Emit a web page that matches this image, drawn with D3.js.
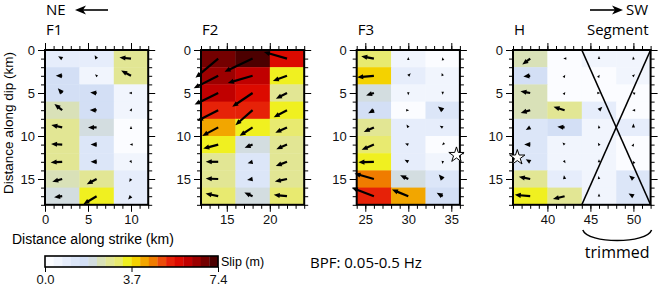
<!DOCTYPE html>
<html>
<head>
<meta charset="UTF-8">
<title>slip model</title>
<style>
    body { margin: 0; background: #fff; }
</style>
</head>
<body>
<script src="https://cdn.jsdelivr.net/npm/d3@7/dist/d3.min.js"></script>
<script>
    var width = 661, height = 289;

    // panels, along-strike extent (km)
    var panelNames = ["F1", "F2", "F3", "H"];
    var strikeStart = [0, 12, 24, 36];
    var strikeEnd = [12, 24, 36, 52];
    var dipMax = 18;
    var cellW = 4, cellH = 2;
    var xLabels = [[0, 5, 10], [15, 20], [25, 30, 35], [40, 45, 50]];
    var yLabels = [0, 5, 10, 15];

    // slip (m) per subfault, rows = down dip
    var slipF1 = [
        [1.1, 0.9, 2.7],
        [1.5, 0.5, 2.6],
        [1.5, 1.5, 0.5],
        [2.3, 1.6, 0.5],
        [2.6, 2.0, 0.3],
        [2.6, 1.4, 0.3],
        [2.7, 1.4, 0.4],
        [2.4, 2.6, 0.8],
        [1.9, 3.6, 1.0]];
    var slipF2 = [
        [6.9, 7.2, 5.6],
        [6.4, 6.0, 3.5],
        [6.1, 5.7, 2.9],
        [5.5, 5.3, 3.5],
        [4.2, 3.6, 3.0],
        [3.6, 2.0, 2.7],
        [2.9, 1.2, 2.8],
        [2.9, 1.3, 2.9],
        [3.0, 2.1, 3.1]];
    var slipF3 = [
        [3.0, 0.4, 0.3],
        [3.9, 0.8, 0.7],
        [1.9, 0.5, 0.4],
        [1.5, 0.2, 1.4],
        [2.6, 0.8, 0.8],
        [3.1, 0.8, 0.2],
        [3.6, 1.0, 0.5],
        [4.7, 2.1, 1.4],
        [5.5, 4.1, 1.6]];
    var slipH = [
        [2.3, 0.3, 0.6, 0.5],
        [1.6, 0.3, 0.3, 0.5],
        [2.3, 0.3, 0.3, 0.3],
        [2.3, 2.7, 1.1, 0.3],
        [1.2, 1.7, 0.5, 0.9],
        [1.4, 0.7, 0.5, 0.3],
        [1.2, 0.4, 0.6, 0.3],
        [2.7, 0.9, 0.7, 1.3],
        [3.6, 2.8, 0.6, 1.3]];

    // rake (deg, counter-clockwise from strike direction)
    var rakeF1 = [
        [150, 120, 175],
        [180, 135, 152],
        [133, 175, 180],
        [142, 178, 60],
        [167, 180, 90],
        [177, 180, 180],
        [183, 180, 300],
        [196, 208, 240],
        [187, 211, 228]];
    var rakeF2 = [
        [220, 205, 164],
        [207, 196, 200],
        [206, 214, 207],
        [207, 221, 208],
        [208, 213, 205],
        [195, 202, 203],
        [180, 195, 201],
        [178, 190, 192],
        [168, 156, 174]];
    var rakeF3 = [
        [169, 90, 100],
        [185, 45, 110],
        [198, 270, 270],
        [208, 0, 142],
        [205, 120, 150],
        [203, 160, 225],
        [182, 150, 260],
        [164, 155, 131],
        [159, 158, 151]];
    var rakeH = [
        [217, 180, 90, 100],
        [185, 60, 60, 45],
        [170, 60, 0, 150],
        [196, 163, 45, 180],
        [210, 175, 100, 90],
        [178, 135, 120, 60],
        [150, 300, 90, 120],
        [169, 100, 100, 140],
        [175, 194, 90, 150]];

    var slipData = [slipF1, slipF2, slipF3, slipH];
    var rakeData = [rakeF1, rakeF2, rakeF3, rakeH];

    // hypocentre (strike km, dip km) shown in F3 and H
    var hypo = [null, null, [35.6, 12.2], [36.5, 12.5]];
    var trimmedKm = [44, 52];
    var slipMax = 7.4;
    var slipTicks = [0, 3.7, 7.4];

    // layout
    var kmPx = 8.6;
    var plotTop = 50;
    var panelLeft = [45, 201, 356.7, 513];
    var arrowKmPerM = 0.5;

    var binColors = ["#fbfcff", "#f1f5fd", "#e6edfb", "#dce6f8", "#d3dff5",
        "#d3dde0", "#d9e1b8", "#e2e694", "#e8ea70", "#f0f020",
        "#f4d200", "#f2a600", "#f07c00", "#ec4c0a", "#e62208",
        "#dc0a00", "#c00000", "#9c0000", "#740000", "#4c0000"];
    var color = d3.scaleQuantize().domain([0, slipMax]).range(binColors);

    var tickFont = "Liberation Sans, Arial, sans-serif";
    var labFont = "Open Sans, sans-serif";

    var svg = d3.select("body").append("svg")
        .attr("width", width)
        .attr("height", height)
        .style("display", "block");

    function styleAxis(g) {
        g.select(".domain").remove();
        g.selectAll("line").attr("stroke", "#000").attr("stroke-width", 1);
        g.selectAll("text").attr("font-family", tickFont).attr("font-size", 13).attr("fill", "#111");
    }

    panelNames.forEach(function (name, p) {
        var x = d3.scaleLinear()
            .domain([strikeStart[p], strikeEnd[p]])
            .range([panelLeft[p], panelLeft[p] + (strikeEnd[p] - strikeStart[p]) * kmPx]);
        var y = d3.scaleLinear()
            .domain([0, dipMax])
            .range([plotTop, plotTop + dipMax * kmPx]);
        var g = svg.append("g");

        var cells = [];
        slipData[p].forEach(function (row, i) {
            row.forEach(function (s, j) {
                cells.push({i: i, j: j, s: s, r: rakeData[p][i][j]});
            });
        });

        // slip cells
        g.selectAll("rect.cell").data(cells).join("rect")
            .attr("x", d => x(strikeStart[p] + d.j * cellW))
            .attr("y", d => y(d.i * cellH))
            .attr("width", d => x(strikeStart[p] + (d.j + 1) * cellW) - x(strikeStart[p] + d.j * cellW) + 0.4)
            .attr("height", d => y((d.i + 1) * cellH) - y(d.i * cellH) + 0.4)
            .attr("fill", d => color(d.s));

        // trimmed segment cross
        if (p == 3) {
            g.append("line")
                .attr("x1", x(trimmedKm[0])).attr("y1", y(0))
                .attr("x2", x(trimmedKm[1])).attr("y2", y(dipMax))
                .attr("stroke", "#000").attr("stroke-width", 1.6);
            g.append("line")
                .attr("x1", x(trimmedKm[1])).attr("y1", y(0))
                .attr("x2", x(trimmedKm[0])).attr("y2", y(dipMax))
                .attr("stroke", "#000").attr("stroke-width", 1.6);
        }

        // slip vectors
        cells.forEach(function (d) {
            var cx = strikeStart[p] + (d.j + 0.5) * cellW;
            var cy = (d.i + 0.5) * cellH;
            var a = d.r * Math.PI / 180;
            var x0 = x(cx), y0 = y(cy);
            var x1 = x(cx + d.s * arrowKmPerM * Math.cos(a));
            var y1 = y(cy - d.s * arrowKmPerM * Math.sin(a));
            var L = Math.hypot(x1 - x0, y1 - y0);
            var ux = (x1 - x0) / L, uy = (y1 - y0) / L;
            var hl = Math.min(6, Math.max(3, L)), hw = hl * 0.42;
            if (L > hl) {
                g.append("line")
                    .attr("x1", x0).attr("y1", y0)
                    .attr("x2", x1 - ux * hl * 0.8).attr("y2", y1 - uy * hl * 0.8)
                    .attr("stroke", "#000").attr("stroke-width", 2.2);
            }
            var bx = x1 - ux * hl, by = y1 - uy * hl;
            g.append("path")
                .attr("d", "M" + x1 + "," + y1 +
                    "L" + (bx - uy * hw) + "," + (by + ux * hw) +
                    "L" + (bx + uy * hw) + "," + (by - ux * hw) + "Z")
                .attr("fill", "#000");
        });

        // frame
        g.append("rect")
            .attr("x", x.range()[0]).attr("y", y.range()[0])
            .attr("width", x.range()[1] - x.range()[0])
            .attr("height", y.range()[1] - y.range()[0])
            .attr("fill", "none").attr("stroke", "#000").attr("stroke-width", 2);

        // ticks
        var xMinor = d3.range(strikeStart[p], strikeEnd[p] + 1);
        var yMinor = d3.range(0, dipMax + 1);
        var yBottom = y.range()[1], xRight = x.range()[1];
        [["top", d3.axisTop, "translate(0," + plotTop + ")"], ["bottom", d3.axisBottom, "translate(0," + yBottom + ")"]].forEach(function (o) {
            g.append("g").attr("transform", o[2])
                .call(o[1](x).tickValues(xMinor).tickSize(4).tickFormat("")).call(styleAxis);
            g.append("g").attr("transform", o[2])
                .call(o[1](x).tickValues(xLabels[p]).tickSize(7)
                    .tickFormat(o[0] == "bottom" ? d3.format("d") : "")).call(styleAxis);
        });
        [["left", d3.axisLeft, "translate(" + x.range()[0] + ",0)"], ["right", d3.axisRight, "translate(" + xRight + ",0)"]].forEach(function (o) {
            g.append("g").attr("transform", o[2])
                .call(o[1](y).tickValues(yMinor).tickSize(4).tickFormat("")).call(styleAxis);
            g.append("g").attr("transform", o[2])
                .call(o[1](y).tickValues(yLabels).tickSize(7)
                    .tickFormat(o[0] == "left" ? d3.format("d") : "")).call(styleAxis);
        });

        // hypocentre star
        if (hypo[p]) {
            g.append("path")
                .attr("d", d3.symbol(d3.symbolStar, 72)())
                .attr("transform", "translate(" + x(hypo[p][0]) + "," + y(hypo[p][1]) + ")")
                .attr("fill", "#fff").attr("stroke", "#000").attr("stroke-width", 1);
        }

        // panel title
        svg.append("text")
            .attr("x", x.range()[0] + 1).attr("y", 35)
            .attr("font-family", labFont).attr("font-size", 15)
            .text(name);
        if (p == 3) {
            svg.append("text")
                .attr("x", xRight - 2).attr("y", 35)
                .attr("text-anchor", "end")
                .attr("font-family", labFont).attr("font-size", 15)
                .text("Segment");
            // brace under trimmed part
            var bx0 = x(trimmedKm[0]) + 1, bx1 = x(trimmedKm[1]) + 1;
            svg.append("path")
                .attr("d", "M" + bx0 + ",230 C" + (bx0 + 5) + ",244 " + (bx1 - 5) + ",244 " + bx1 + ",230")
                .attr("fill", "none").attr("stroke", "#000").attr("stroke-width", 1.5);
            svg.append("text")
                .attr("x", (bx0 + bx1) / 2).attr("y", 258)
                .attr("text-anchor", "middle")
                .attr("font-family", labFont).attr("font-size", 16)
                .text("trimmed");
        }
    });

    // direction arrows
    function dirArrow(xTail, xTip, yy) {
        var s = xTip < xTail ? 1 : -1;
        svg.append("line")
            .attr("x1", xTail).attr("y1", yy).attr("x2", xTip + s * 6).attr("y2", yy)
            .attr("stroke", "#000").attr("stroke-width", 1.6);
        svg.append("path")
            .attr("d", "M" + xTip + "," + yy + "L" + (xTip + s * 11) + "," + (yy - 4.5) +
                "L" + (xTip + s * 8) + "," + yy + "L" + (xTip + s * 11) + "," + (yy + 4.5) + "Z")
            .attr("fill", "#000");
    }
    svg.append("text").attr("x", 46).attr("y", 15)
        .attr("font-family", labFont).attr("font-size", 15).text("NE");
    dirArrow(108, 75, 10);
    svg.append("text").attr("x", 648).attr("y", 15).attr("text-anchor", "end")
        .attr("font-family", labFont).attr("font-size", 15).text("SW");
    dirArrow(590, 623, 10);

    // axis titles
    svg.append("text")
        .attr("transform", "translate(13,123) rotate(-90)")
        .attr("text-anchor", "middle")
        .attr("font-family", tickFont).attr("font-size", 13.5)
        .text("Distance along dip (km)");
    svg.append("text")
        .attr("x", 12).attr("y", 244)
        .attr("font-family", tickFont).attr("font-size", 14)
        .text("Distance along strike (km)");

    // colour bar
    var cbX = d3.scaleLinear().domain([0, slipMax]).range([45, 218]);
    var cbTop = 256, cbH = 11;
    var bins = color.thresholds();
    var edges = [0].concat(bins).concat([slipMax]);
    svg.append("g").selectAll("rect")
        .data(binColors)
        .join("rect")
        .attr("x", (d, i) => cbX(edges[i]))
        .attr("y", cbTop)
        .attr("width", (d, i) => cbX(edges[i + 1]) - cbX(edges[i]) + 0.3)
        .attr("height", cbH)
        .attr("fill", d => d);
    svg.append("rect")
        .attr("x", cbX(0)).attr("y", cbTop)
        .attr("width", cbX(slipMax) - cbX(0)).attr("height", cbH)
        .attr("fill", "none").attr("stroke", "#000").attr("stroke-width", 1.6);
    svg.append("g")
        .attr("transform", "translate(0," + (cbTop + cbH) + ")")
        .call(d3.axisBottom(cbX).tickValues(slipTicks).tickSize(5).tickFormat(d3.format(".1f")))
        .call(styleAxis);
    svg.append("text")
        .attr("x", 221).attr("y", 266)
        .attr("font-family", tickFont).attr("font-size", 12.5)
        .text("Slip (m)");
    svg.append("text")
        .attr("x", 310).attr("y", 268)
        .attr("font-family", labFont).attr("font-size", 15)
        .text("BPF: 0.05-0.5 Hz");
</script>
</body>
</html>
